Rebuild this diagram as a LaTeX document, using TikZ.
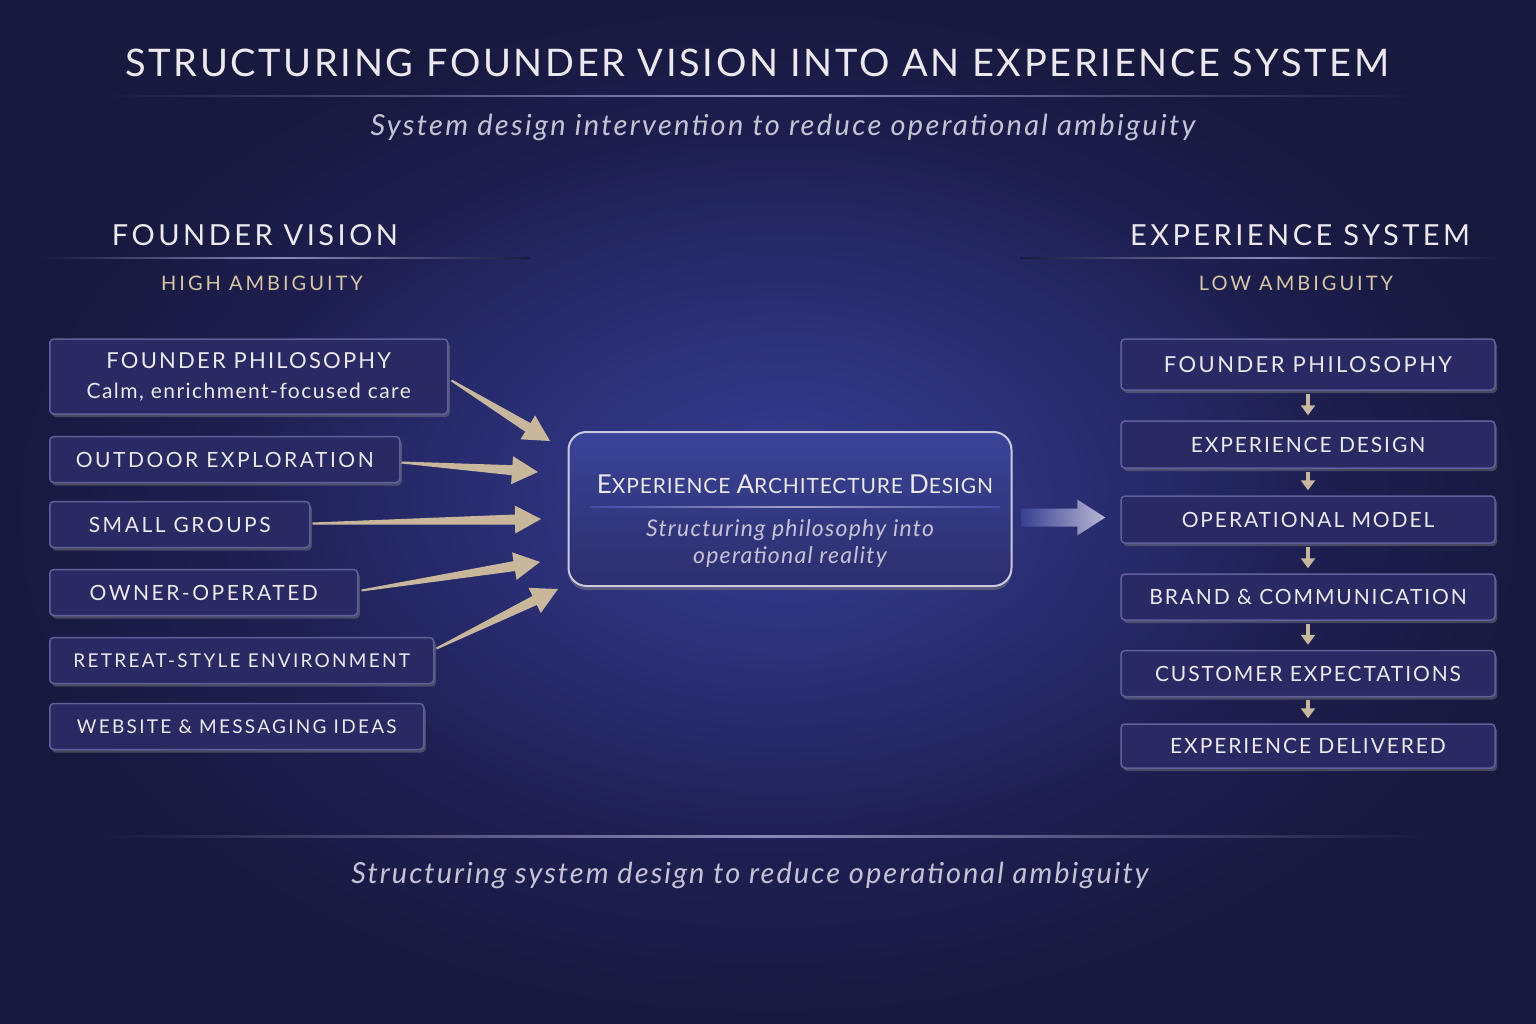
\documentclass[tikz,border=0pt]{standalone}
\usepackage{fontspec}
\setmainfont{Lato}
\usetikzlibrary{calc,positioning,arrows.meta,shadows,fadings}

\definecolor{bgdeep}{HTML}{18193F}
\definecolor{bgglow}{HTML}{2A2C76}
\definecolor{glowcol}{HTML}{3E4AA6}
\definecolor{boxfill}{HTML}{292A63}
\definecolor{boxline}{HTML}{60619A}
\definecolor{inktext}{HTML}{ECE8EE}
\definecolor{softtext}{HTML}{C6C2D6}
\definecolor{goldtext}{HTML}{D8C6A2}
\definecolor{arrowtan}{HTML}{C9B79C}
\definecolor{rulecol}{HTML}{8C88B8}

\newcommand{\fs}[3]{\fontsize{#1}{#2}\selectfont\addfontfeature{LetterSpace=#3}}

\tikzfading[name=glowfade, inner color=transparent!0, outer color=transparent!100]

% tapered arrow between two named points
\newcommand{\taperarrow}[2]{%
  \coordinate (tb) at ($(#2)!26pt!(#1)$);
  \fill[arrowtan] ($(#1)!1pt!90:(#2)$) -- ($(tb)!5pt!90:(#2)$) -- ($(tb)!14pt!90:(#2)$) -- (#2)
    -- ($(tb)!14pt!-90:(#2)$) -- ($(tb)!5pt!-90:(#2)$) -- ($(#1)!1pt!-90:(#2)$) -- cycle;
}

\begin{document}
\begin{tikzpicture}[x=1pt,y=-1pt,
  leftbox/.style={draw=boxline, line width=1.5pt, fill=boxfill, rounded corners=4pt, anchor=west,
    minimum height=46pt, inner sep=0pt, text=inktext, font=\fs{21}{26}{12},
    drop shadow={shadow xshift=2pt, shadow yshift=-3pt, opacity=0.45}},
  rightbox/.style={draw=boxline, line width=1.5pt, fill=boxfill, rounded corners=4pt,
    minimum width=374pt, minimum height=46pt, inner sep=0pt, text=inktext, font=\fs{21}{26}{9},
    drop shadow={shadow xshift=2pt, shadow yshift=-3pt, opacity=0.45}},
  stepar/.style={arrowtan, line width=4pt, -{Triangle[width=14pt,length=10pt]},
    shorten <=3pt, shorten >=5pt},
  headtext/.style={text=inktext, font=\fs{29}{34}{12}},
  ambtext/.style={text=goldtext, font=\fs{20}{24}{15}},
  softital/.style={text=softtext, font=\fs{29}{34}{8}\itshape},
]
\useasboundingbox (0,0) rectangle (1536,1024);
\shade[inner color=bgglow, outer color=bgdeep] (0,0) rectangle (1536,1024);
\fill[glowcol, path fading=glowfade, fill opacity=0.55] (790,480) ellipse (560 and 360);

% title block
\node[text=inktext, font=\fs{38}{44}{7}] (title) at (757,63) {STRUCTURING FOUNDER VISION INTO AN EXPERIENCE SYSTEM};
\shade[left color=bgdeep, right color=bgdeep, middle color=rulecol] (100,95.5) rectangle (1420,97);
\node[softital] (sub) at (783,127) {System design intervention to reduce operational ambiguity};

% column headings
\node[headtext] (fvh) at (255,235) {FOUNDER VISION};
\shade[left color=bgdeep, right color=bgdeep, middle color=rulecol] (40,257.5) rectangle (530,259);
\node[ambtext] (high) at (262,283) {HIGH AMBIGUITY};
\node[headtext] (esh) at (1300,235) {EXPERIENCE SYSTEM};
\shade[left color=bgdeep, right color=bgdeep, middle color=rulecol] (1020,257.5) rectangle (1500,259);
\node[ambtext] (low) at (1296,283) {LOW AMBIGUITY};

% founder vision inputs
\node[leftbox, minimum width=398pt, minimum height=75pt, align=center] (fp) at (49,376.5)
  {{\fs{22}{26}{10}FOUNDER PHILOSOPHY}\\[4pt]{\fs{21}{26}{7}Calm, enrichment-focused care}};
\node[leftbox, minimum width=350pt] (oe) at (49,459.5) {OUTDOOR EXPLORATION};
\node[leftbox, minimum width=260pt] (sg) at (49,524.5) {SMALL GROUPS};
\node[leftbox, minimum width=308pt] (oo) at (49,592.5) {OWNER-OPERATED};
\node[leftbox, minimum width=384pt, font=\fs{19}{24}{12}] (rs) at (49,660.5) {RETREAT-STYLE ENVIRONMENT};
\node[leftbox, minimum width=374pt, font=\fs{19}{24}{12}] (wm) at (49,726.5) {WEBSITE \& MESSAGING IDEAS};

% central design box
\node[draw=rulecol!45!white, line width=2pt, rounded corners=18pt, top color=glowcol!80!boxfill,
  bottom color=boxfill!85!glowcol, minimum width=443pt, minimum height=154pt,
  drop shadow={shadow xshift=0pt, shadow yshift=-4pt, opacity=0.5}] (arch) at (790,509) {};
\node[text=inktext, font=\fs{21}{26}{4}] (archT) at (795,484)
  {{\fs{26}{30}{4}E}XPERIENCE {\fs{26}{30}{4}A}RCHITECTURE {\fs{26}{30}{4}D}ESIGN};
\shade[left color=glowcol, right color=glowcol, middle color=rulecol!80!white] (590,506.5) rectangle (1000,507.7);
\node[text=softtext, font=\fs{23}{27}{5.5}\itshape, align=center] (archS) at (790,543)
  {Structuring philosophy into\\operational reality};

% arrows into the design box
\coordinate (in1) at (550,441);
\coordinate (in2) at (538,472);
\coordinate (in3) at (541,519);
\coordinate (in4) at (540,562);
\coordinate (in5) at (558,589);
\coordinate (s1) at ($(fp.east)+(3,4)$);
\coordinate (s2) at ($(oe.east)+(1,3)$);
\coordinate (s3) at ($(sg.east)+(2,-1)$);
\coordinate (s4) at ($(oo.east)+(3,-2)$);
\coordinate (s5) at ($(rs.east)+(2,-12)$);
\taperarrow{s1}{in1}
\taperarrow{s2}{in2}
\taperarrow{s3}{in3}
\taperarrow{s4}{in4}
\taperarrow{s5}{in5}

% experience system chain
\node[rightbox, minimum height=51pt, font=\fs{22}{26}{11}] (r1) at (1308,364.5) {FOUNDER PHILOSOPHY};
\node[rightbox, minimum height=47pt] (r2) at (1308,444.5) {EXPERIENCE DESIGN};
\node[rightbox, minimum height=47pt] (r3) at (1308,519.5) {OPERATIONAL MODEL};
\node[rightbox] (r4) at (1308,597) {BRAND \& COMMUNICATION};
\node[rightbox] (r5) at (1308,673.5) {CUSTOMER EXPECTATIONS};
\node[rightbox, minimum height=44pt] (r6) at (1308,746) {EXPERIENCE DELIVERED};
\foreach \a/\b in {r1/r2, r2/r3, r3/r4, r4/r5, r5/r6}
  \draw[stepar] (\a) -- (\b);

% design box to system
\coordinate (oa) at ($(arch.east |- r3.west)+(9,-2)$);
\coordinate (ob) at ($(r3.west)+(-15,-2)$);
\shade[left color=glowcol!70!boxfill, right color=rulecol!60!white]
  ($(oa)+(0,-9)$) -- ($(ob)+(-28,-9)$) -- ($(ob)+(-28,-18)$) -- (ob)
  -- ($(ob)+(-28,18)$) -- ($(ob)+(-28,9)$) -- ($(oa)+(0,9)$) -- cycle;

% closing line
\shade[left color=bgdeep, right color=bgdeep, middle color=rulecol] (100,835.5) rectangle (1430,837);
\node[softital, font=\fs{29}{34}{7}\itshape] (foot) at (750,875) {Structuring system design to reduce operational ambiguity};
\end{tikzpicture}
\end{document}
